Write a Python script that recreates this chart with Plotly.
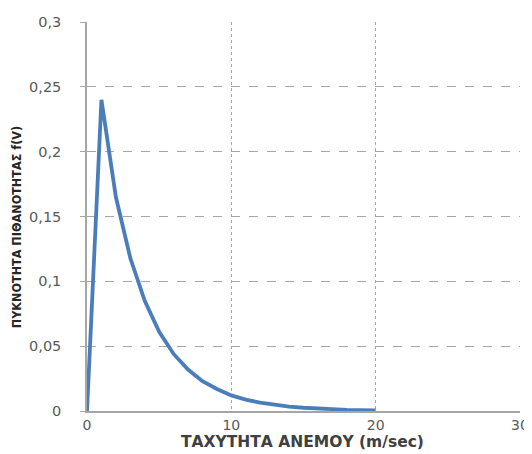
import plotly.graph_objects as go

speed = [0, 1, 2, 3, 4, 5, 6, 7, 8, 9, 10, 11, 12, 13, 14, 15, 16, 17, 18, 19, 20]
density = [0, 0.24, 0.165, 0.118, 0.085, 0.061, 0.044, 0.032, 0.023, 0.017, 0.012,
           0.0088, 0.0064, 0.0047, 0.0034, 0.0025, 0.0018, 0.0013, 0.0009, 0.0007, 0.0005]

x_ticks = [0, 10, 20, 30]
x_tick_labels = ["0", "10", "20", "30"]
y_ticks = [0, 0.05, 0.1, 0.15, 0.2, 0.25, 0.3]
y_tick_labels = ["0", "0,05", "0,1", "0,15", "0,2", "0,25", "0,3"]

x_title = "ΤΑΧΥΤΗΤΑ ΑΝΕΜΟΥ (m/sec)"
y_title = "ΠΥΚΝΟΤΗΤΑ ΠΙΘΑΝΟΤΗΤΑΣ f(V)"

fig = go.Figure()
fig.add_trace(go.Scatter(x=speed, y=density, mode="lines",
                         line=dict(color="#4A7EBB", width=3.8), showlegend=False))

grid_col = "#A6A6A6"
fig.update_layout(
    width=524, height=446,
    margin=dict(l=79, r=12, t=14, b=43),
    paper_bgcolor="white", plot_bgcolor="white",
    font=dict(family="DejaVu Sans", color="#595959", size=14),
    xaxis=dict(range=[0, 30], tickvals=x_ticks, ticktext=x_tick_labels,
               showgrid=True, gridcolor=grid_col, griddash="dot", gridwidth=1,
               showline=True, linecolor="#A6A6A6", linewidth=1.5,
               ticks="", zeroline=False, automargin=False,
               tickfont=dict(size=14, color="#595959")),
    yaxis=dict(range=[0, 0.3], tickvals=y_ticks, ticktext=y_tick_labels,
               showgrid=True, gridcolor=grid_col, griddash="dash", gridwidth=1,
               showline=True, linecolor="#A6A6A6", linewidth=1.5,
               ticks="outside", ticklen=5, tickcolor=grid_col, zeroline=False,
               automargin=False, ticklabelstandoff=16,
               tickfont=dict(size=14.5, color="#595959")),
    annotations=[
        dict(text="<b>" + x_title + "</b>", xref="paper", yref="paper",
             x=0.497, y=-0.079, xanchor="center", yanchor="middle", showarrow=False,
             font=dict(family="DejaVu Sans", size=15.5, color="#404040")),
        dict(text="<b>" + y_title + "</b>", xref="paper", yref="paper",
             x=-0.162, y=0.472, xanchor="center", yanchor="middle", showarrow=False,
             textangle=-90,
             font=dict(family="Liberation Sans Narrow, DejaVu Sans Condensed, DejaVu Sans",
                       size=12.5, color="#262626")),
    ],
)
fig.write_html("out.html")
